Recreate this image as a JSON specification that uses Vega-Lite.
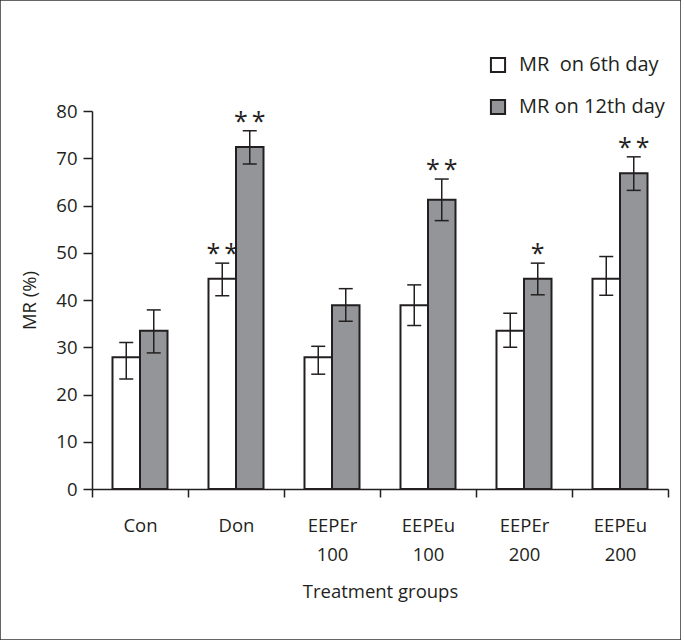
{
  "$schema": "https://vega.github.io/schema/vega-lite/v6.json",
  "width": 681,
  "height": 640,
  "autosize": {"type": "none"},
  "padding": 0,
  "background": "white",
  "config": {
    "view": {"stroke": "#333333", "strokeWidth": 1.5},
    "font": "Open Sans",
    "axis": {"labelFont": "Open Sans", "titleFont": "Open Sans", "labelColor": "#231f20", "titleColor": "#231f20", "domainColor": "#231f20", "tickColor": "#231f20", "domainWidth": 1.5, "tickWidth": 1.5, "grid": false, "titleFontWeight": "normal", "labelFontWeight": "normal", "labelFontSize": 18.5, "titleFontSize": 18.5},
    "legend": {"labelFont": "Open Sans", "labelColor": "#231f20"}
  },
  "data": {
    "values": [
      {"group": "Con", "day": "MR\u00a0 on 6th day", "value": 27.9, "lo": 23.3, "hi": 31.0, "sig": ""},
      {"group": "Con", "day": "MR on 12th day", "value": 33.5, "lo": 28.8, "hi": 37.9, "sig": ""},
      {"group": "Don", "day": "MR\u00a0 on 6th day", "value": 44.5, "lo": 40.9, "hi": 47.8, "sig": "*\u2009*"},
      {"group": "Don", "day": "MR on 12th day", "value": 72.4, "lo": 68.8, "hi": 75.8, "sig": "*\u2009*"},
      {"group": "EEPEr 100", "day": "MR\u00a0 on 6th day", "value": 27.9, "lo": 24.3, "hi": 30.2, "sig": ""},
      {"group": "EEPEr 100", "day": "MR on 12th day", "value": 38.9, "lo": 35.5, "hi": 42.4, "sig": ""},
      {"group": "EEPEu 100", "day": "MR\u00a0 on 6th day", "value": 38.9, "lo": 34.6, "hi": 43.2, "sig": ""},
      {"group": "EEPEu 100", "day": "MR on 12th day", "value": 61.2, "lo": 56.8, "hi": 65.6, "sig": "*\u2009*"},
      {"group": "EEPEr 200", "day": "MR\u00a0 on 6th day", "value": 33.5, "lo": 30.0, "hi": 37.2, "sig": ""},
      {"group": "EEPEr 200", "day": "MR on 12th day", "value": 44.5, "lo": 41.1, "hi": 47.8, "sig": "*"},
      {"group": "EEPEu 200", "day": "MR\u00a0 on 6th day", "value": 44.5, "lo": 41.0, "hi": 49.2, "sig": ""},
      {"group": "EEPEu 200", "day": "MR on 12th day", "value": 66.8, "lo": 63.2, "hi": 70.3, "sig": "*\u2009*"}
    ]
  },
  "encoding": {
    "x": {
      "field": "group", "type": "nominal",
      "sort": ["Con", "Don", "EEPEr 100", "EEPEu 100", "EEPEr 200", "EEPEu 200"],
      "scale": {"range": [92, 668], "paddingInner": 0, "paddingOuter": 0},
      "axis": {"title": "Treatment groups", "labelAngle": 0, "offset": -151, "tickBand": "extent", "tickSize": 8, "labelPadding": 19, "labelExpr": "split(datum.label, ' ')", "labelLineHeight": 29, "titlePadding": 19}
    },
    "xOffset": {
      "field": "day", "type": "nominal",
      "sort": ["MR\u00a0 on 6th day", "MR on 12th day"],
      "scale": {"paddingOuter": 0.745, "paddingInner": 0}
    }
  },
  "layer": [
    {
      "mark": {"type": "bar", "stroke": "#231f20", "strokeWidth": 2},
      "encoding": {
        "y": {
          "field": "value", "type": "quantitative",
          "scale": {"domain": [0, 80], "range": [489, 111], "nice": false},
          "axis": {"title": "MR (%)", "values": [0, 10, 20, 30, 40, 50, 60, 70, 80], "offset": -92, "tickSize": 9, "labelPadding": 6, "titlePadding": 16}
        },
        "fill": {
          "field": "day", "type": "nominal",
          "sort": ["MR\u00a0 on 6th day", "MR on 12th day"],
          "scale": {"domain": ["MR\u00a0 on 6th day", "MR on 12th day"], "range": ["#ffffff", "#939598"]},
          "legend": {"title": null, "orient": "none", "legendX": 488, "legendY": 55, "symbolType": "square", "symbolSize": 200, "symbolStrokeColor": "#231f20", "symbolStrokeWidth": 2, "labelFontSize": 20, "labelFontWeight": "normal", "rowPadding": 18, "labelOffset": 11}
        }
      }
    },
    {
      "mark": {"type": "rule", "color": "#231f20", "strokeWidth": 1.5},
      "encoding": {
        "y": {"field": "lo", "type": "quantitative"},
        "y2": {"field": "hi"}
      }
    },
    {
      "mark": {"type": "tick", "color": "#231f20", "thickness": 1.5, "size": 14, "opacity": 1},
      "encoding": {"y": {"field": "lo", "type": "quantitative"}}
    },
    {
      "mark": {"type": "tick", "color": "#231f20", "thickness": 1.5, "size": 14, "opacity": 1},
      "encoding": {"y": {"field": "hi", "type": "quantitative"}}
    },
    {
      "transform": [{"filter": "datum.sig != ''"}],
      "mark": {"type": "text", "font": "Open Sans", "fontSize": 25, "color": "#231f20", "baseline": "alphabetic", "align": "center", "dy": -1},
      "encoding": {
        "y": {"field": "hi", "type": "quantitative"},
        "text": {"field": "sig"}
      }
    }
  ]
}
